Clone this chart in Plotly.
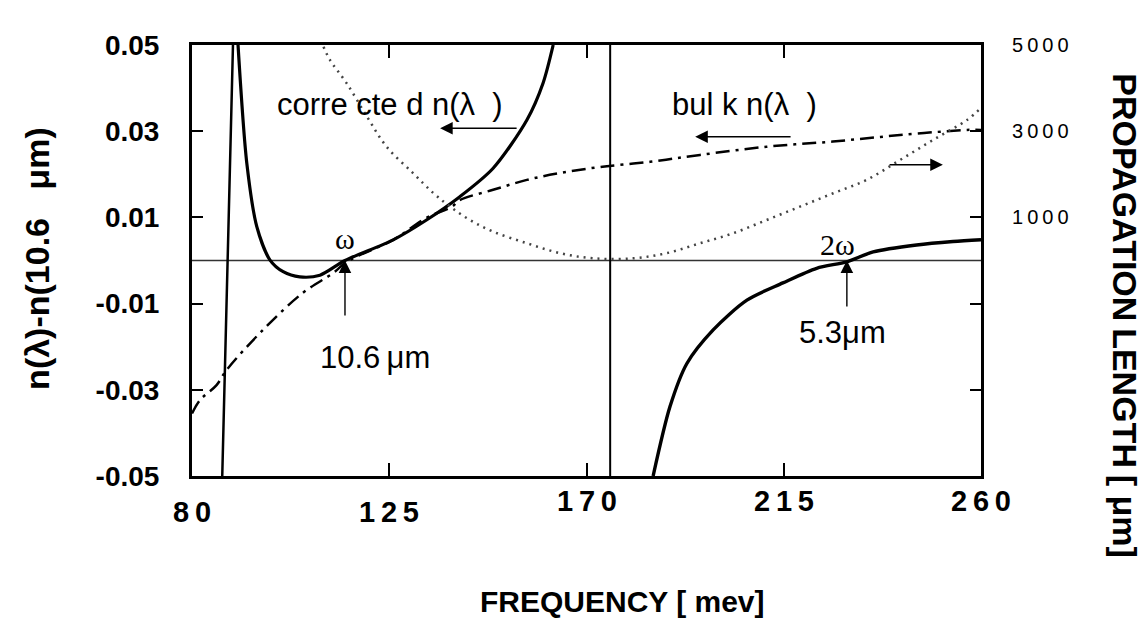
import plotly.graph_objects as go

# ---------------- data ----------------
# corrected n(lambda) - n(10.6 um), left axis (solid)
spike_x = [86.9, 89.35, 89.9, 90.5]
spike_y = [-0.05, 0.05, 0.065, 0.05]
corr_x1 = [90.5, 92.5, 94.8, 97.8, 100.8, 104.6, 109.2, 114.9,
           125.9, 133.5, 141.1, 148.7, 156.4, 160.1, 162.4]
corr_y1 = [0.05, 0.0226, 0.0078, 0.0001, -0.0026, -0.0038, -0.0034, 0.0,
           0.0048, 0.0094, 0.0148, 0.0214, 0.0326, 0.0412, 0.05]
corr_x2 = [185.2, 189.05, 192.9, 198.9, 206.6, 214.8, 222.5, 229.4, 235.4, 245.3, 253.6, 260.0]
corr_y2 = [-0.05, -0.0339, -0.0239, -0.0161, -0.0092, -0.0052, -0.0018, -0.0003, 0.002, 0.0036, 0.0044, 0.0048]

# bulk n(lambda) - n(10.6 um), left axis (dash-dot)
bulk_x = [80.0, 81.8, 85.6, 87.9, 96.2, 105.3, 112.2, 115.3, 125.9, 133.5, 139.3, 141.1,
          148.7, 156.4, 164.0, 173.1, 184.5, 195.9, 211.1, 226.2, 241.5, 256.8, 260.0]
bulk_y = [-0.0355, -0.0324, -0.0289, -0.0254, -0.0161, -0.0075, -0.0029, -0.0003, 0.0048, 0.0099,
          0.0125, 0.014, 0.0164, 0.0187, 0.0203, 0.0217, 0.0229, 0.0245, 0.0264, 0.0276, 0.0291, 0.0303, 0.0303]

# propagation length [um], right axis (dotted)
prop_x = [110.0, 111.5, 115.3, 119.9, 124.4, 130.5, 135.1, 138.9, 143.4, 148.7, 156.4, 164.0,
          171.6, 180.6, 188.3, 195.9, 203.4, 211.1, 218.7, 226.3, 233.9, 241.5, 249.1, 256.8, 260.0]
prop_y = [4960, 4650, 4110, 3340, 2640, 2020, 1560, 1250, 940, 670, 400, 170,
          50, 50, 170, 400, 630, 940, 1250, 1560, 1870, 2330, 2800, 3260, 3540]

pole_x = 175.4            # vertical line position (meV)
omega_x = 114.9           # 10.6 um crossing
two_omega_x = 229.4       # 5.3 um crossing

x_ticks = [80, 125, 170, 215, 260]
y_ticks = [-0.05, -0.03, -0.01, 0.01, 0.03, 0.05]
y_ticklabels = ["-0.05", "-0.03", "-0.01", "0.01", "0.03", "0.05"]
y2_ticks = [1000, 3000, 5000]

# ---------------- figure ----------------
SANS = "Liberation Sans, Arial, Helvetica, sans-serif"
SERIF = "Liberation Serif, Times New Roman, serif"
TS = "\u2009"

fig = go.Figure()

fig.add_trace(go.Scatter(x=[80, 260], y=[0, 0], mode="lines",
                         line=dict(color="#333333", width=1.5), hoverinfo="skip", showlegend=False))
fig.add_trace(go.Scatter(x=[pole_x, pole_x], y=[-0.05, 0.05], mode="lines",
                         line=dict(color="black", width=2), showlegend=False))
fig.add_trace(go.Scatter(x=prop_x, y=prop_y, yaxis="y2", mode="lines",
                         line=dict(color="#444444", width=2.5, dash="2px,5px", shape="spline"),
                         showlegend=False))
fig.add_trace(go.Scatter(x=bulk_x, y=bulk_y, mode="lines",
                         line=dict(color="black", width=2.5, dash="14px,6px,3px,6px", shape="spline"),
                         showlegend=False))
fig.add_trace(go.Scatter(x=spike_x, y=spike_y, mode="lines",
                         line=dict(color="black", width=2.5), showlegend=False))
fig.add_trace(go.Scatter(x=corr_x1, y=corr_y1, mode="lines",
                         line=dict(color="black", width=3.2, shape="spline", smoothing=0.8),
                         showlegend=False))
fig.add_trace(go.Scatter(x=corr_x2, y=corr_y2, mode="lines",
                         line=dict(color="black", width=3.4, shape="spline", smoothing=0.8),
                         showlegend=False))

annotations = []

# x tick labels (staggered as in the original)
for v in x_ticks:
    shift = -36 if v < 150 else -25
    annotations.append(dict(x=v, y=0, xref="x", yref="paper", yshift=shift,
                            text=TS.join(str(v)), showarrow=False,
                            font=dict(family=SANS, size=29, color="black", weight="bold"),
                            xanchor="center", yanchor="middle"))

REG = dict(family=SANS, size=31, color="black")
# text labels
annotations += [
    dict(x=125.2, y=0.0362, xref="x", yref="y", text="corre cte d n(λ\u00a0\u00a0)",
         showarrow=False, font=REG),
    dict(x=206.0, y=0.0362, xref="x", yref="y", text="bul k n(λ\u00a0\u00a0)",
         showarrow=False, font=REG),
    dict(x=omega_x, y=0.0052, xref="x", yref="y", text="ω",
         showarrow=False, font=dict(family=SERIF, size=30, color="black")),
    dict(x=227.2, y=0.0038, xref="x", yref="y", text="2ω",
         showarrow=False, font=dict(family=SERIF, size=30, color="black")),
    dict(x=121.8, y=-0.0224, xref="x", yref="y", text="10.6\u2009μm",
         showarrow=False, font=REG),
    dict(x=228.5, y=-0.0168, xref="x", yref="y", text="5.3μm",
         showarrow=False, font=REG),
]

# arrows
def arrow(x0, y0, x1, y1):
    return dict(x=x1, y=y1, ax=x0, ay=y0, xref="x", yref="y", axref="x", ayref="y",
                text="", showarrow=True, arrowhead=2, arrowsize=1.8, arrowwidth=1.4,
                arrowcolor="black")

annotations += [
    arrow(154.4, 0.0307, 136.6, 0.0307),
    arrow(216.9, 0.0287, 194.8, 0.0287),
    arrow(238.8, 0.0222, 251.3, 0.0222),
    arrow(omega_x, -0.0131, omega_x, 0.0),
    arrow(two_omega_x, -0.011, two_omega_x, 0.0),
]

BOLD = dict(family=SANS, color="black", weight="bold")
# axis titles
annotations += [
    dict(x=-0.1965, y=0.506, xref="paper", yref="paper", text="n(λ)-n(10.6\u00a0\u00a0\u00a0μm)",
         textangle=-90, showarrow=False, font=dict(size=34, **BOLD),
         xanchor="center", yanchor="middle"),
    dict(x=1.183, y=0.372, xref="paper", yref="paper",
         text="PROPAGATION\u2009LENGTH\u2009[\u00a0μm]",
         textangle=90, showarrow=False, font=dict(size=34, **BOLD),
         xanchor="center", yanchor="middle"),
    dict(x=0.545, y=-0.292, xref="paper", yref="paper", text="FREQUENCY [\u00a0mev]",
         showarrow=False, font=dict(size=30, **BOLD),
         xanchor="center", yanchor="middle"),
]

fig.update_layout(
    width=1147, height=639,
    margin=dict(l=192, r=166, t=45, b=163),
    plot_bgcolor="white", paper_bgcolor="white",
    showlegend=False,
    font=dict(family=SANS, color="black"),
    xaxis=dict(range=[80, 260], tickvals=x_ticks, showticklabels=False,
               ticks="inside", ticklen=13, tickwidth=2, tickcolor="black",
               showline=True, linecolor="black", linewidth=3, mirror="ticks",
               showgrid=False, zeroline=False),
    yaxis=dict(range=[-0.05, 0.05], tickvals=y_ticks, ticktext=y_ticklabels,
               ticks="inside", ticklen=11, tickwidth=2, tickcolor="black",
               showline=True, linecolor="black", linewidth=3, mirror="ticks",
               showgrid=False, zeroline=False, ticklabelstandoff=24,
               tickfont=dict(family=SANS, size=28, color="black", weight="bold")),
    yaxis2=dict(range=[-5000, 5000], overlaying="y", side="right", tickvals=y2_ticks,
                ticktext=[TS.join(str(v)) for v in y2_ticks],
                ticks="", showline=False, showgrid=False, zeroline=False,
                ticklabelstandoff=30,
                tickfont=dict(family=SANS, size=20, color="black")),
    annotations=annotations,
)

fig.write_html("out.html")
